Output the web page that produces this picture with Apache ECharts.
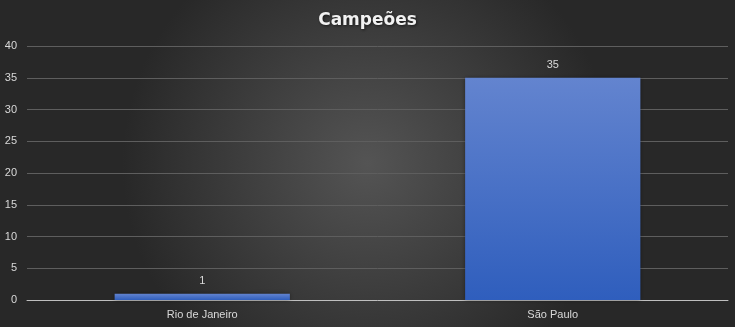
<!DOCTYPE html>
<html><head><meta charset="utf-8">
<script src="https://cdn.jsdelivr.net/npm/echarts@6/dist/echarts.min.js"></script>
<style>html,body{margin:0;padding:0;}#c{width:735px;height:327px;}</style>
</head><body><div id="c"></div>
<script>
const categories = ['Rio de Janeiro', 'São Paulo'];
const values = [1, 35];
const titleText = 'Campeões';

const chart = echarts.init(document.getElementById('c'), null, {renderer: 'canvas'});
chart.setOption({
  backgroundColor: {
    type: 'radial', x: 0.5, y: 0.5, r: 0.75,
    colorStops: [{offset: 0, color: '#545454'}, {offset: 1, color: '#282828'}]
  },
  title: {
    text: titleText, left: 'center', top: 7,
    textStyle: {color: '#f2f2f2', fontSize: 17, fontWeight: 'bold', fontFamily: 'DejaVu Sans',
      textShadowColor: 'rgba(0,0,0,0.6)', textShadowBlur: 3, textShadowOffsetX: 1, textShadowOffsetY: 1}
  },
  grid: {left: 27, right: 7, top: 46, bottom: 27, containLabel: false},
  xAxis: {
    type: 'category', data: categories,
    axisLine: {lineStyle: {color: '#bfbfbf', width: 1}},
    axisTick: {show: false},
    axisLabel: {color: '#d9d9d9', fontSize: 11, fontFamily: 'Liberation Sans', margin: 9}
  },
  yAxis: {
    type: 'value', min: 0, max: 40, interval: 5,
    axisLine: {show: false}, axisTick: {show: false},
    splitLine: {lineStyle: {color: '#5e5e5e', width: 1}},
    axisLabel: {color: '#d9d9d9', fontSize: 11, fontFamily: 'Liberation Sans', margin: 10}
  },
  series: [{
    type: 'bar', data: values, barWidth: '50%',
    itemStyle: {
      color: {type: 'linear', x: 0, y: 0, x2: 0, y2: 1,
        colorStops: [{offset: 0, color: '#6384cf'}, {offset: 1, color: '#2f5ebd'}]},
      shadowColor: 'rgba(0,0,0,0.4)', shadowBlur: 4
    },
    label: {show: true, position: 'top', color: '#d9d9d9', fontSize: 11, fontFamily: 'Liberation Sans', distance: 7}
  }]
});
</script></body></html>
